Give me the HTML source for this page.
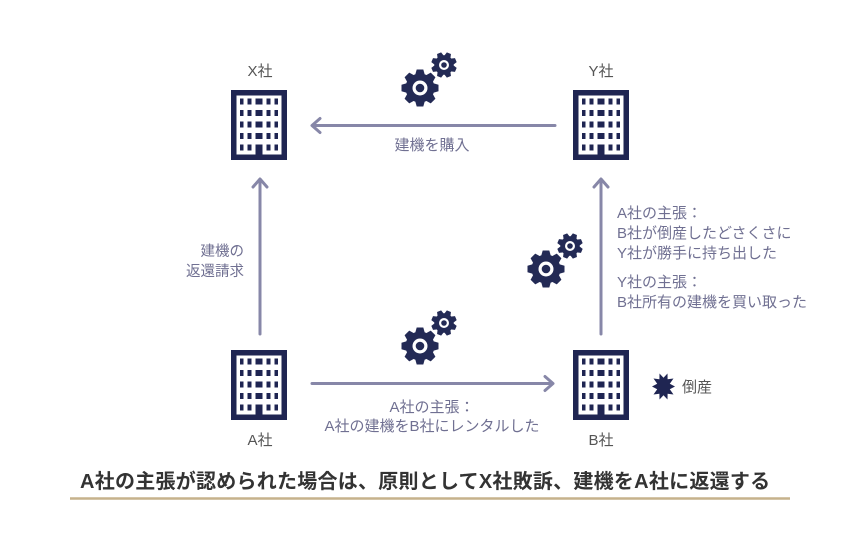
<!DOCTYPE html>
<html>
<head>
<meta charset="utf-8">
<style>
  html,body{margin:0;padding:0;background:#fff;}
  svg{display:block;}
  text{font-family:"Liberation Sans","Noto Sans CJK JP",sans-serif;}
</style>
</head>
<body>
<svg width="860" height="550" viewBox="0 0 860 550" xmlns="http://www.w3.org/2000/svg">
  <rect width="860" height="550" fill="#fff"/>
  <defs>
    <g id="bld">
      <rect x="0" y="0" width="56" height="70" fill="#1f2552"/>
      <rect x="5.5" y="5.5" width="45" height="59" fill="#fff"/>
      <g fill="#1f2552">
        <rect x="9" y="8.5" width="3.5" height="6"/><rect x="16.5" y="8.5" width="4" height="6"/><rect x="24.5" y="8.5" width="7" height="6"/><rect x="35.5" y="8.5" width="4" height="6"/><rect x="43.5" y="8.5" width="3.5" height="6"/>
        <rect x="9" y="20" width="3.5" height="6"/><rect x="16.5" y="20" width="4" height="6"/><rect x="24.5" y="20" width="7" height="6"/><rect x="35.5" y="20" width="4" height="6"/><rect x="43.5" y="20" width="3.5" height="6"/>
        <rect x="9" y="31.5" width="3.5" height="6"/><rect x="16.5" y="31.5" width="4" height="6"/><rect x="24.5" y="31.5" width="7" height="6"/><rect x="35.5" y="31.5" width="4" height="6"/><rect x="43.5" y="31.5" width="3.5" height="6"/>
        <rect x="9" y="43" width="3.5" height="6"/><rect x="16.5" y="43" width="4" height="6"/><rect x="24.5" y="43" width="7" height="6"/><rect x="35.5" y="43" width="4" height="6"/><rect x="43.5" y="43" width="3.5" height="6"/>
        <rect x="9" y="54.5" width="3.5" height="6"/><rect x="16.5" y="54.5" width="4" height="6"/><rect x="24.5" y="54.5" width="7" height="15.5"/><rect x="35.5" y="54.5" width="4" height="6"/><rect x="43.5" y="54.5" width="3.5" height="6"/>
      </g>
    </g>
    <polygon id="toothB" points="-5,-12.5 -3.3,-18.5 3.3,-18.5 5,-12.5" fill="#232a55"/>
    <polygon id="toothS" points="-3.4,-8.5 -2.2,-12.8 2.2,-12.8 3.4,-8.5" fill="#232a55"/>
    <g id="gearBig">
      <circle r="14.5" fill="#232a55"/>
      <use href="#toothB"/>
      <use href="#toothB" transform="rotate(45)"/>
      <use href="#toothB" transform="rotate(90)"/>
      <use href="#toothB" transform="rotate(135)"/>
      <use href="#toothB" transform="rotate(180)"/>
      <use href="#toothB" transform="rotate(225)"/>
      <use href="#toothB" transform="rotate(270)"/>
      <use href="#toothB" transform="rotate(315)"/>
      <circle r="7.5" fill="#fff"/>
      <circle r="4.3" fill="#232a55"/>
    </g>
    <g id="gearSmall">
      <circle r="9.7" fill="#232a55"/>
      <use href="#toothS" transform="rotate(22.5)"/>
      <use href="#toothS" transform="rotate(67.5)"/>
      <use href="#toothS" transform="rotate(112.5)"/>
      <use href="#toothS" transform="rotate(157.5)"/>
      <use href="#toothS" transform="rotate(202.5)"/>
      <use href="#toothS" transform="rotate(247.5)"/>
      <use href="#toothS" transform="rotate(292.5)"/>
      <use href="#toothS" transform="rotate(337.5)"/>
      <circle r="5" fill="#fff"/>
      <circle r="2.8" fill="#232a55"/>
    </g>
    <g id="gears">
      <use href="#gearSmall" x="24" y="-23"/>
      <use href="#gearBig" x="0" y="0"/>
    </g>
  </defs>

  <!-- buildings -->
  <use href="#bld" x="231" y="90"/>
  <use href="#bld" x="573" y="90"/>
  <use href="#bld" x="231" y="350"/>
  <use href="#bld" x="573" y="350"/>

  <!-- gears -->
  <use href="#gears" x="420" y="88"/>
  <use href="#gears" x="546" y="269"/>
  <use href="#gears" x="420" y="346"/>

  <!-- arrows -->
  <g stroke="#8787a8" stroke-width="3" fill="none" stroke-linecap="round" stroke-linejoin="round">
    <line x1="555" y1="125.5" x2="313" y2="125.5"/>
    <polyline points="320,118.5 312,125.5 320,132.5"/>
    <line x1="260" y1="334" x2="260" y2="180"/>
    <polyline points="253,187 260,179 267,187"/>
    <line x1="601" y1="334" x2="601" y2="180"/>
    <polyline points="594,187 601,179 608,187"/>
    <line x1="312" y1="383.5" x2="552" y2="383.5"/>
    <polyline points="545,376.5 553,383.5 545,390.5"/>
  </g>

  <!-- starburst -->
  <polygon fill="#1f2552" points="675,386.5 669.8,389.3 673.5,394.5 667.6,393.7 667.5,399.5 663.5,395.3 659.5,399.5 659.4,393.7 653.5,394.5 657.2,389.3 652,386.5 657.2,383.7 653.5,378.5 659.4,379.3 659.5,373.5 663.5,377.7 667.5,373.5 667.6,379.3 673.5,378.5 669.8,383.7"/>

  <!-- company labels -->
  <g font-size="15" fill="#555" text-anchor="middle">
    <text x="260" y="76">X社</text>
    <text x="601" y="76">Y社</text>
    <text x="260" y="445">A社</text>
    <text x="601" y="445">B社</text>
  </g>

  <!-- purple-gray labels -->
  <g font-size="14.5" fill="#707092">
    <text x="432" y="150" text-anchor="middle" font-size="15">建機を購入</text>
    <text x="244" y="256" text-anchor="end">建機の</text>
    <text x="244" y="276" text-anchor="end">返還請求</text>
    <text x="617" y="218" font-size="15">A社の主張：</text>
    <text x="617" y="238" font-size="15">B社が倒産したどさくさに</text>
    <text x="617" y="258" font-size="15">Y社が勝手に持ち出した</text>
    <text x="617" y="287" font-size="15">Y社の主張：</text>
    <text x="617" y="307" font-size="15">B社所有の建機を買い取った</text>
    <text x="432" y="412" text-anchor="middle" font-size="15">A社の主張：</text>
    <text x="432" y="431" text-anchor="middle" font-size="15">A社の建機をB社にレンタルした</text>
  </g>
  <text x="682" y="392" font-size="15" fill="#555">倒産</text>

  <!-- footer -->
  <text x="80" y="488" font-size="20" font-weight="bold" fill="#333" letter-spacing="0.25">A社の主張が認められた場合は、原則としてX社敗訴、建機をA社に返還する</text>
  <line x1="70" y1="498.5" x2="790" y2="498.5" stroke="#c6b28c" stroke-width="2.5"/>
</svg>
</body>
</html>
